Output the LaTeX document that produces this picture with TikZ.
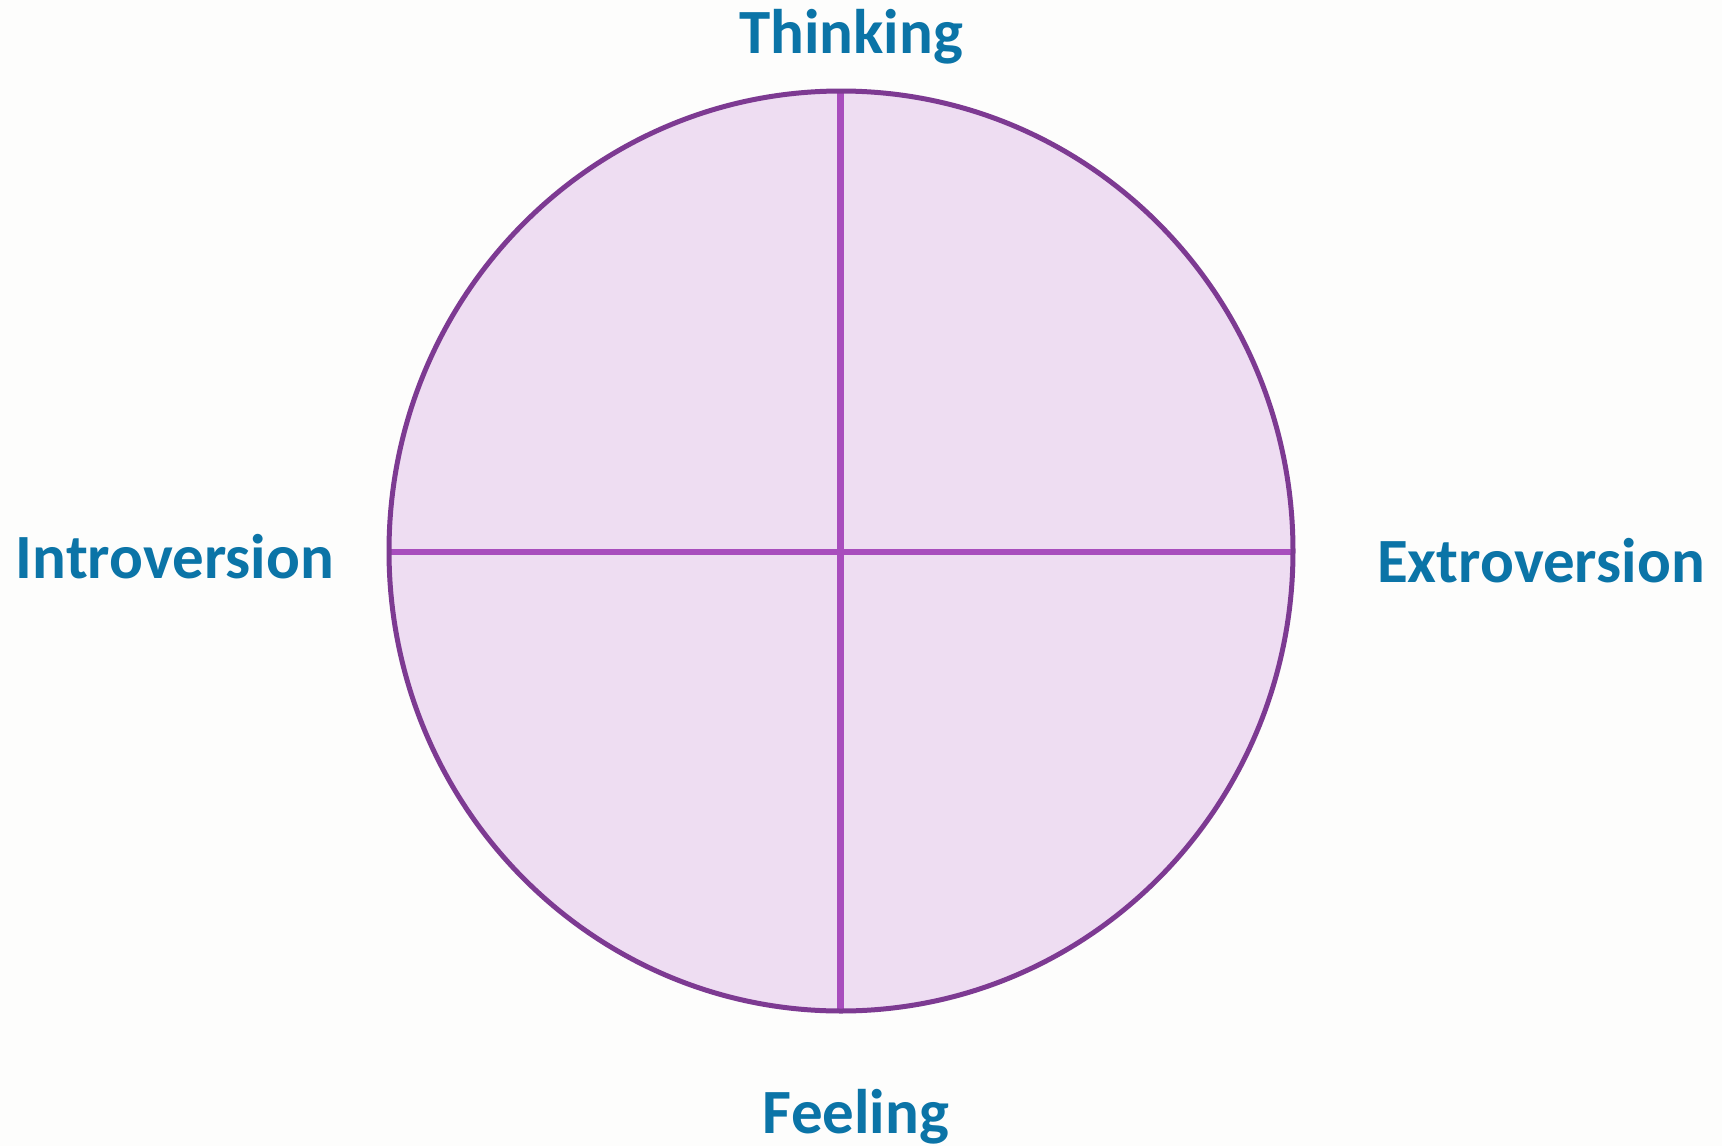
\documentclass[tikz,border=0pt]{standalone}
\usepackage{fontspec}
\setmainfont{Carlito}
\definecolor{bgc}{HTML}{FDFDFC}
\definecolor{rimc}{HTML}{7D3A92}
\definecolor{crossc}{HTML}{A84DBD}
\definecolor{fillc}{HTML}{EEDDF2}
\definecolor{labc}{HTML}{0B74A7}
\begin{document}
\begin{tikzpicture}[x=1pt,y=-1pt,
  lab/.style={anchor=base,inner sep=0pt,text=labc,font=\fontsize{63}{75}\selectfont\bfseries}]
\fill[bgc] (0,0) rectangle (1722,1146);
\useasboundingbox (0,0) rectangle (1722,1146);
\coordinate (c) at (841,551);
\fill[fillc] (c) ellipse [x radius=452, y radius=460];
\coordinate (top) at (840.5,91);
\coordinate (bot) at (840.5,1011);
\coordinate (lft) at (389,552);
\coordinate (rgt) at (1294,552);
\draw[crossc,line width=6.5pt] (top) -- (bot);
\draw[crossc,line width=6pt] (lft) -- (rgt);
\draw[rimc,line width=5pt] (c) ellipse [x radius=452, y radius=460];
\node[lab] (thinking) at (851,53) {Thinking};
\node[lab] (feeling) at (856,1133) {Feeling};
\node[lab] (intro) at (175,578) {Introversion};
\node[lab] (extro) at (1541,582) {Extroversion};
\end{tikzpicture}
\end{document}
